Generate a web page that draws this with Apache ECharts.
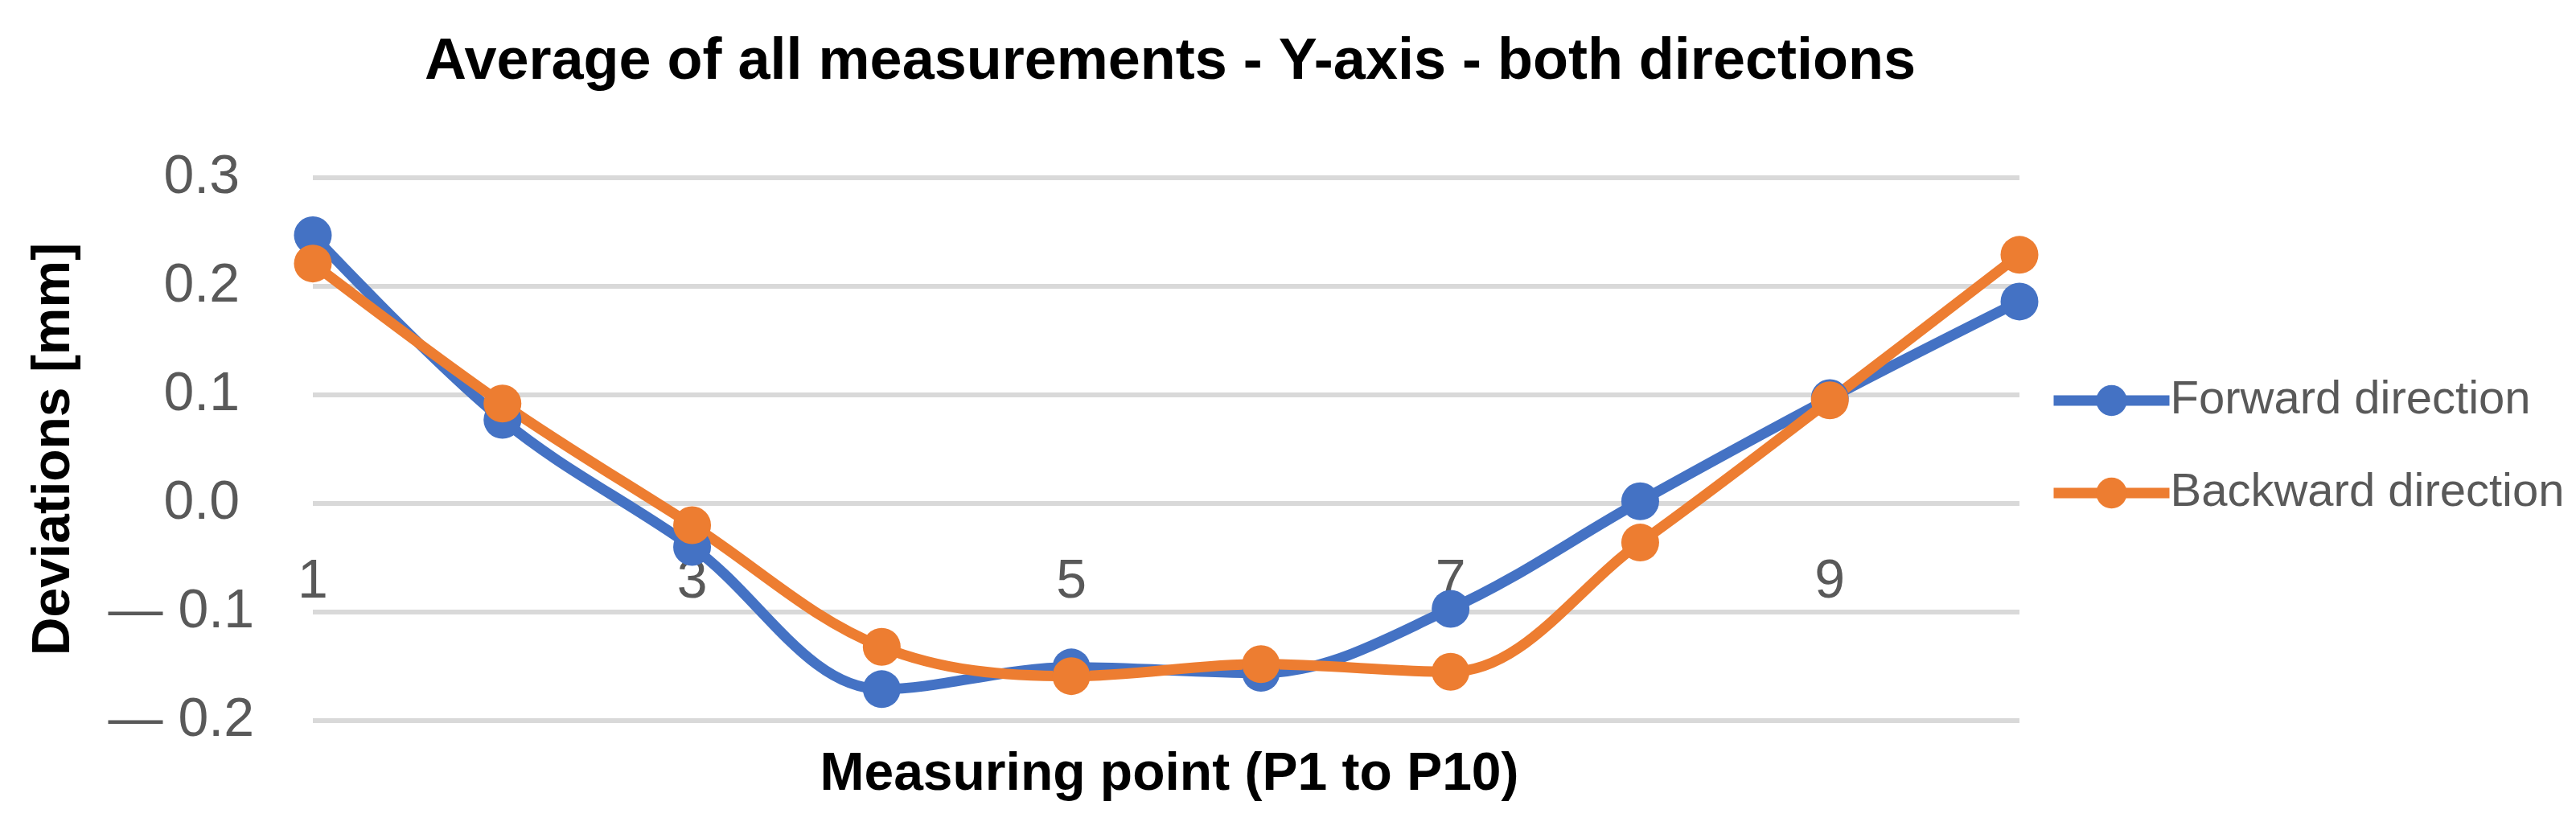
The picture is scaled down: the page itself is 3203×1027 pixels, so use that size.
<!DOCTYPE html>
<html>
<head>
<meta charset="utf-8">
<script src="https://cdn.jsdelivr.net/npm/echarts@6/dist/echarts.min.js"></script>
<style>
html,body{margin:0;padding:0;background:#fff;}
#chart{width:3203px;height:1027px;}
</style>
</head>
<body>
<div id="chart"></div>
<script>
const categories = ['1','2','3','4','5','6','7','8','9','10'];
const forwardValues = [0.247, 0.077, -0.040, -0.171, -0.151, -0.156, -0.097, 0.002, 0.097, 0.186];
const backwardValues = [0.221, 0.092, -0.020, -0.132, -0.159, -0.148, -0.155, -0.036, 0.095, 0.229];
const yTicks = [-0.2, -0.1, 0.0, 0.1, 0.2, 0.3];
const seriesNames = ['Forward direction', 'Backward direction'];

const FONT = '"Liberation Sans", Arial, sans-serif';
const chart = echarts.init(document.getElementById('chart'), null, {renderer: 'canvas'});
chart.setOption({
  backgroundColor: '#ffffff',
  animation: false,
  title: [{
    text: 'Average of all measurements - Y-axis - both directions',
    left: 1450, top: 37, textAlign: 'center',
    textStyle: {fontFamily: FONT, fontWeight: 'bold', fontSize: 72, color: '#000'}
  }, {
    text: 'Measuring point (P1 to P10)',
    left: 1449, top: 926, textAlign: 'center',
    textStyle: {fontFamily: FONT, fontWeight: 'bold', fontSize: 66, color: '#000'}
  }],
  legend: {
    orient: 'vertical',
    left: 2542, top: 463,
    itemWidth: 144, itemHeight: 48, itemGap: 55,
    data: seriesNames,
    lineStyle: {width: 13},
    textStyle: {fontFamily: FONT, fontSize: 58, color: '#595959', lineHeight: 60, padding: [0,0,0,-4]}
  },
  grid: {left: 389, right: 692, top: 221, bottom: 131, containLabel: false},
  xAxis: {
    type: 'category',
    data: categories,
    boundaryGap: false,
    offset: -270,
    axisLine: {show: false, onZero: false},
    axisTick: {show: false},
    axisLabel: {interval: 1, margin: 64, fontFamily: FONT, fontSize: 68, color: '#595959'},
    splitLine: {show: false}
  },
  yAxis: {
    type: 'value',
    min: yTicks[0], max: yTicks[yTicks.length - 1], interval: 0.1,
    name: 'Deviations [mm]',
    nameLocation: 'middle', nameRotate: 90, nameGap: 288,
    nameTextStyle: {fontFamily: FONT, fontWeight: 'bold', fontSize: 66, color: '#000'},
    axisLine: {show: false},
    axisTick: {show: false},
    axisLabel: {
      margin: 73, fontFamily: FONT, fontSize: 68, color: '#595959',
      formatter: function (v) {
        const r = Math.round(v * 10) / 10;
        if (r < 0) return '{n|\u2014 ' + Math.abs(r).toFixed(1) + '}';
        return '{p|' + r.toFixed(1) + '}';
      },
      rich: {
        n: {fontFamily: FONT, fontSize: 68, color: '#595959'},
        p: {fontFamily: FONT, fontSize: 68, color: '#595959', padding: [0, 18, 0, 0]}
      }
    },
    splitLine: {show: true, lineStyle: {color: '#d9d9d9', width: 6}}
  },
  series: [{
    name: seriesNames[0], type: 'line', data: forwardValues,
    smooth: 0.35, symbol: 'circle', symbolSize: 47,
    lineStyle: {color: '#4472c4', width: 13},
    itemStyle: {color: '#4472c4'}
  }, {
    name: seriesNames[1], type: 'line', data: backwardValues,
    smooth: 0.35, symbol: 'circle', symbolSize: 47,
    lineStyle: {color: '#ed7d31', width: 13},
    itemStyle: {color: '#ed7d31'}
  }]
});
</script>
</body>
</html>
